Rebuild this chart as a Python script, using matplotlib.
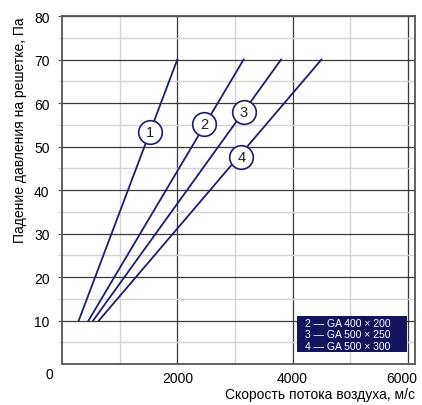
import matplotlib
matplotlib.use('Agg')
import matplotlib.pyplot as plt
import matplotlib.transforms as mtransforms
from matplotlib.patches import Rectangle

plt.rcParams['font.family'] = ['Liberation Sans', 'DejaVu Sans']

# start (flow, 10 Pa) and end (flow, 70 Pa) for each curve
curve_ids = ['1', '2', '3', '4']
x_start = [290, 460, 540, 640]
x_end = [2000, 3150, 3800, 4500]
y_start = [10, 10, 10, 10]
y_end = [70, 70, 70, 70]

# where the numbered circles sit
label_x = [1530, 2470, 3150, 3110]
label_y = [53.3, 55.2, 58.0, 47.6]

legend_lines = ['2 \u2014 GA 400 \u00d7 200', '3 \u2014 GA 500 \u00d7 250', '4 \u2014 GA 500 \u00d7 300']

navy = '#1b1f6b'

fig = plt.figure(figsize=(4.22, 4.06), dpi=100)
ax = fig.add_axes([0.147, 0.101, 0.836, 0.857])

ax.set_xlim(0, 6120)
ax.set_ylim(0, 80)
ax.set_xticks([2000, 4000, 6000])
ax.set_xticks([1000, 3000, 5000], minor=True)
ax.set_yticks(range(10, 90, 10))
ax.set_yticks(range(5, 80, 10), minor=True)
ax.grid(which='major', color='#3a3a3a', lw=0.9)
ax.grid(which='minor', color='#d4d4d4', lw=1.0)
ax.set_axisbelow(True)
for s in ax.spines.values():
    s.set_color('#555555')
    s.set_linewidth(1.3)
ax.tick_params(axis='x', which='both', length=0, pad=5, labelsize=10)
ax.tick_params(axis='y', which='major', length=3, color='#555555', pad=6, labelsize=10)
ax.tick_params(axis='y', which='minor', length=3, color='#cccccc')

# last x label sits a bit left, inside the figure
fig.canvas.draw()
lbl = ax.get_xticklabels()[-1]
lbl.set_transform(lbl.get_transform() + mtransforms.ScaledTranslation(-0.06, 0, fig.dpi_scale_trans))

for i in range(len(curve_ids)):
    ax.plot([x_start[i], x_end[i]], [y_start[i], y_end[i]], color=navy, lw=1.3)
    ax.plot(label_x[i], label_y[i], 'o', ms=17, mfc='white', mec=navy, mew=1.2)
    ax.text(label_x[i], label_y[i], curve_ids[i], ha='center', va='center', fontsize=10.5, color='#222222')

ax.text(-0.025, -0.01, '0', transform=ax.transAxes, ha='right', va='top', fontsize=10)

fig.text(0.983, 0.027, 'Скорость потока воздуха, м/с', ha='right', va='center', fontsize=10)
ax.set_ylabel('Падение давления на решетке, Па', loc='top', fontsize=10, labelpad=5)

ax.add_patch(Rectangle((0.666, 0.034), 0.312, 0.103, transform=ax.transAxes,
                       facecolor='#14145e', edgecolor='none', zorder=5))
for k, t in enumerate(legend_lines):
    ax.text(0.69, 0.118 - k * 0.033, t, transform=ax.transAxes, color='white',
            fontsize=7.5, va='center', ha='left', zorder=6)

fig.savefig('out.png', dpi=100)
